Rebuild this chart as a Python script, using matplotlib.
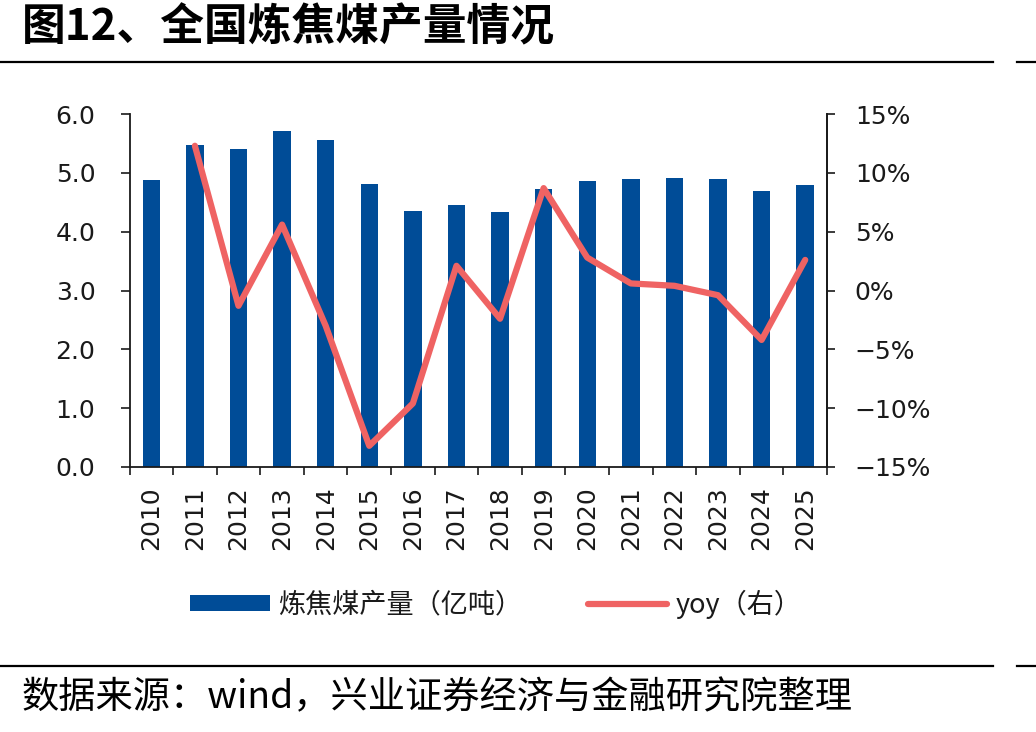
import matplotlib
matplotlib.use("Agg")
import matplotlib.pyplot as plt
from matplotlib.lines import Line2D
from matplotlib.ticker import FixedLocator, FuncFormatter
import numpy as np

# ---- data ----
years = ["2010", "2011", "2012", "2013", "2014", "2015", "2016", "2017",
         "2018", "2019", "2020", "2021", "2022", "2023", "2024", "2025"]
output_bn_t = [4.88, 5.47, 5.40, 5.71, 5.55, 4.81, 4.35, 4.45,
               4.34, 4.72, 4.86, 4.89, 4.91, 4.89, 4.69, 4.80]
yoy_pct = [None, 12.3, -1.3, 5.6, -3.0, -13.2, -9.6, 2.1,
           -2.4, 8.7, 2.8, 0.6, 0.4, -0.4, -4.2, 2.6]
left_ticks = [0.0, 1.0, 2.0, 3.0, 4.0, 5.0, 6.0]
right_ticks = [-15, -10, -5, 0, 5, 10, 15]

title = "图12、全国炼焦煤产量情况"
bar_label = "炼焦煤产量（亿吨）"
line_label = "yoy（右）"
source = "数据来源：wind，兴业证券经济与金融研究院整理"

BAR_COLOR = "#004C97"
LINE_COLOR = "#EF6363"
CJK = ["Noto Sans CJK SC", "DejaVu Sans"]
TICK_FS = 18

W, H = 1036, 732
fig = plt.figure(figsize=(W / 100, H / 100), dpi=100)
fig.patch.set_facecolor("white")

ax = fig.add_axes([129.5 / W, 1 - 467 / H, (827 - 129.5) / W, (467 - 114) / H])
x = np.arange(len(years))
bars = ax.bar(x, output_bn_t, width=0.4, color=BAR_COLOR, zorder=2,
              label=bar_label)
ax.set_xlim(-0.5, len(years) - 0.5)
ax.set_ylim(0, 6)
ax.set_yticks(left_ticks)
ax.yaxis.set_major_formatter(FuncFormatter(lambda v, p: f"{v:.1f}"))

ax.spines["top"].set_visible(False)
for s in ["left", "bottom", "right"]:
    ax.spines[s].set_linewidth(1.3)
    ax.spines[s].set_color("#1a1a1a")

# x ticks: labels at centers, tick marks at boundaries
ax.set_xticks(x)
ax.set_xticklabels(years, rotation=90, fontsize=TICK_FS, family="DejaVu Sans",
                   color="#1a1a1a")
ax.xaxis.set_minor_locator(FixedLocator(np.arange(-0.5, len(years), 1.0)))
ax.tick_params(axis="x", which="major", length=0, pad=14)
ax.tick_params(axis="x", which="minor", length=6, width=1.2, direction="out",
               color="#1a1a1a")
ax.tick_params(axis="y", which="major", length=6.5, width=1.2, direction="out",
               pad=18, labelsize=TICK_FS, color="#1a1a1a", labelcolor="#1a1a1a")
for t in ax.get_yticklabels():
    t.set_family("DejaVu Sans")

ax2 = ax.twinx()
yoy_arr = np.array([np.nan if v is None else v for v in yoy_pct], dtype=float)
ax2.plot(x, yoy_arr, color=LINE_COLOR, linewidth=4.5, solid_capstyle="round",
         solid_joinstyle="round", zorder=3, label=line_label)
ax2.set_ylim(-15, 15)
ax2.set_yticks(right_ticks)
ax2.yaxis.set_major_formatter(
    FuncFormatter(lambda v, p: f"{v:.0f}%".replace("-", "\u2212")))
ax2.tick_params(axis="y", which="major", length=6, width=1.2, direction="out",
                pad=14, labelsize=TICK_FS, color="#1a1a1a", labelcolor="#1a1a1a")
for t in ax2.get_yticklabels():
    t.set_family("DejaVu Sans")
for s in ["top", "left", "bottom"]:
    ax2.spines[s].set_visible(False)
ax2.spines["right"].set_linewidth(1.3)
ax2.spines["right"].set_color("#1a1a1a")

# legend
handles = [bars, ax2.get_lines()[0]]
leg = fig.legend(handles, [bar_label, line_label], loc="center",
                 bbox_to_anchor=(496 / W, 1 - 604 / H), ncol=2, frameon=False,
                 prop={"family": CJK, "size": 19.5}, handlelength=2.95,
                 handleheight=0.55, handletextpad=0.3, columnspacing=2.4,
                 borderpad=0)
for t in leg.get_texts():
    t.set_color("#1a1a1a")

# title and source
fig.text(22 / W, 1 - 27 / H, title, family=CJK, fontsize=31.5, fontweight="bold",
         ha="left", va="center", color="black")
fig.text(22 / W, 1 - 698 / H, source, family=CJK, fontsize=26.8,
         ha="left", va="center", color="black")

# horizontal rules
for yy in (61.5, 666):
    fig.add_artist(Line2D([0, 993 / W], [1 - yy / H, 1 - yy / H],
                          transform=fig.transFigure, color="black", lw=1.6))
    fig.add_artist(Line2D([1017 / W, 1], [1 - yy / H, 1 - yy / H],
                          transform=fig.transFigure, color="black", lw=1.6))

fig.savefig("out.png", dpi=100, facecolor="white")
